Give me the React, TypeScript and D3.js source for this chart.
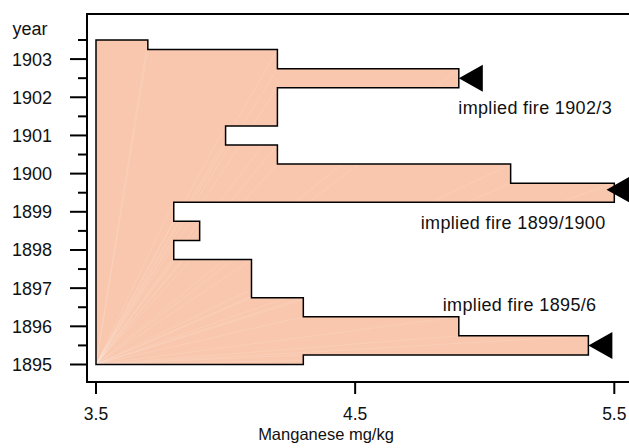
import React from "react";
import * as d3 from "d3";

// period boundaries (decimal years) and Mn value for each period between them
const yearBreaks = [1895, 1895.25, 1895.75, 1896.25, 1896.75, 1897.75, 1898.25, 1898.75, 1899.25,
  1899.75, 1900.25, 1900.75, 1901.25, 1902.25, 1902.75, 1903.25, 1903.5];
const manganese = [4.3, 5.4, 4.9, 4.3, 4.1, 3.8, 3.9, 3.8, 5.5, 5.1, 4.2, 4.0, 4.2, 4.9, 4.2, 3.7];
const baseValue = 3.5;

const yearTicks = [1895, 1896, 1897, 1898, 1899, 1900, 1901, 1902, 1903];
const halfYearTicks = [1895.5, 1896.5, 1897.5, 1898.5, 1899.5, 1900.5, 1901.5, 1902.5, 1903.5];
const mnTicks = [3.5, 4.5, 5.5];

// fire markers (arrow tips) and their labels
const fireYears = [1902.5, 1899.58, 1895.5];
const fireMn = [4.9, 5.47, 5.4];
const fireLabels = ["implied fire 1902/3", "implied fire 1899/1900", "implied fire 1895/6"];
const labelMn = [4.898, 4.753, 4.838];
const labelYear = [1901.57, 1898.54, 1896.41];

const W = 629, H = 448;
const font = "'Liberation Sans', Arial, sans-serif";

export default function App() {
  const x = d3.scaleLinear().domain([3.5, 5.5]).range([96, 614.3]);
  const y = d3.scaleLinear().domain([1895, 1903.5]).range([364.5, 40]);

  const pts: [number, number][] = [[baseValue, yearBreaks[0]]];
  manganese.forEach((v, i) => {
    pts.push([v, yearBreaks[i]]);
    pts.push([v, yearBreaks[i + 1]]);
  });
  pts.push([baseValue, yearBreaks[yearBreaks.length - 1]]);

  const line = d3.line<[number, number]>().x(d => x(d[0])).y(d => y(d[1]));
  const shape = line(pts) + "Z";

  const left = 87, top = 14, bottom = 382;

  return (
    <svg width={W} height={H} style={{ position: "absolute", left: 0, top: 0 }}
      fontFamily={font}>
      <defs>
        <clipPath id="shapeClip"><path d={shape} /></clipPath>
      </defs>
      <path d={shape} fill="#F9C7AD" />
      <g clipPath="url(#shapeClip)">
        {pts.slice(1).map((p, i) => (
          <line key={i} x1={x(pts[0][0])} y1={y(pts[0][1])} x2={x(p[0])} y2={y(p[1])}
            stroke="#fff" strokeOpacity={0.22} strokeWidth={0.6} />
        ))}
      </g>
      <path d={shape} fill="none" stroke="#000" strokeWidth={1.5} />

      {fireYears.map((yr, i) => {
        const tx = x(fireMn[i]), ty = y(yr);
        return <path key={i} d={`M${tx},${ty}L${tx + 24},${ty - 13.5}L${tx + 24},${ty + 13.5}Z`} fill="#000" />;
      })}
      {fireLabels.map((t, i) => (
        <text key={t} x={x(labelMn[i])} y={y(labelYear[i])} fontSize={18} letterSpacing={0.35}
          fill="#111">{t}</text>
      ))}

      {/* plot box (right side runs past the picture) */}
      <path d={`M${W + 20},${top}H${left}V${bottom}H${W + 20}`} fill="none" stroke="#000" strokeWidth={2} />

      {yearTicks.map(t => (
        <g key={t}>
          <line x1={70} x2={left} y1={y(t)} y2={y(t)} stroke="#000" strokeWidth={2} />
          <text x={52} y={y(t) + 6.5} textAnchor="end" fontSize={18} fill="#111">{t}</text>
        </g>
      ))}
      {halfYearTicks.map(t => (
        <line key={t} x1={78} x2={left} y1={y(t)} y2={y(t)} stroke="#000" strokeWidth={2} />
      ))}
      <text x={12.5} y={34.5} fontSize={18} fill="#111">year</text>

      {mnTicks.map(t => (
        <g key={t}>
          <line x1={x(t)} x2={x(t)} y1={bottom} y2={394} stroke="#000" strokeWidth={2} />
          <text x={x(t)} y={419.5} textAnchor="middle" fontSize={17.5} fill="#111">{t.toFixed(1)}</text>
        </g>
      ))}
      <text x={326} y={439.5} textAnchor="middle" fontSize={16.5} fill="#111">Manganese mg/kg</text>
    </svg>
  );
}
